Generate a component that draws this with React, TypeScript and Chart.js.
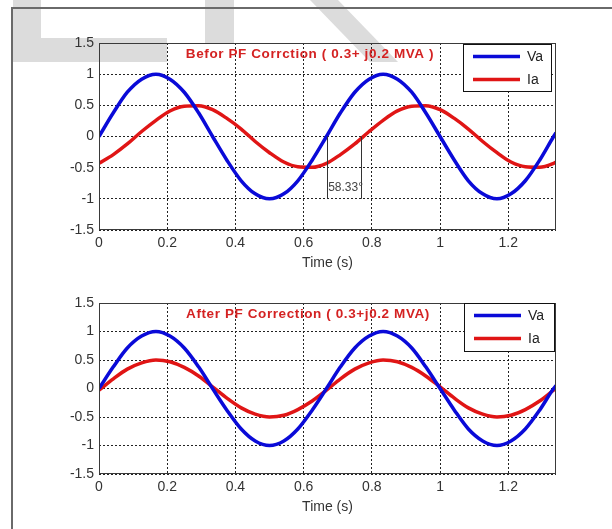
import React, { useEffect, useRef } from 'react';
import { Chart, registerables } from 'chart.js';

Chart.register(...registerables);

// ---- data ----
const time = [0, 0.042, 0.083, 0.125, 0.167, 0.208, 0.25, 0.292, 0.333, 0.375, 0.417, 0.458, 0.5, 0.542, 0.583, 0.625, 0.667, 0.708, 0.75, 0.792, 0.833, 0.875, 0.917, 0.958, 1.0, 1.042, 1.083, 1.125, 1.167, 1.208, 1.25, 1.292, 1.333, 1.34];
const vaBefore = [0, 0.38, 0.71, 0.92, 1, 0.92, 0.71, 0.38, 0, -0.38, -0.71, -0.92, -1, -0.92, -0.71, -0.38, 0, 0.38, 0.71, 0.92, 1, 0.92, 0.71, 0.38, 0, -0.38, -0.71, -0.92, -1, -0.92, -0.71, -0.38, 0, 0.06];
const iaBefore = [-0.43, -0.29, -0.12, 0.08, 0.26, 0.41, 0.486, 0.494, 0.43, 0.29, 0.12, -0.08, -0.26, -0.41, -0.486, -0.494, -0.43, -0.29, -0.12, 0.08, 0.26, 0.41, 0.486, 0.494, 0.43, 0.29, 0.12, -0.08, -0.26, -0.41, -0.486, -0.494, -0.43, -0.41];
const vaAfter = [0, 0.38, 0.71, 0.92, 1, 0.92, 0.71, 0.38, 0, -0.38, -0.71, -0.92, -1, -0.92, -0.71, -0.38, 0, 0.38, 0.71, 0.92, 1, 0.92, 0.71, 0.38, 0, -0.38, -0.71, -0.92, -1, -0.92, -0.71, -0.38, 0, 0.05];
const iaAfter = [-0.03, 0.17, 0.34, 0.45, 0.5, 0.47, 0.37, 0.22, 0.03, -0.17, -0.34, -0.45, -0.5, -0.47, -0.37, -0.22, -0.03, 0.17, 0.34, 0.45, 0.5, 0.47, 0.37, 0.22, 0.03, -0.17, -0.34, -0.45, -0.5, -0.47, -0.37, -0.22, -0.03, 0.0];

const xTicks = [0, 0.2, 0.4, 0.6, 0.8, 1, 1.2];
const yTicks = [-1.5, -1, -0.5, 0, 0.5, 1, 1.5];
const xMin = 0;
const xMax = 1.34;
const yMin = -1.5;
const yMax = 1.5;
const seriesLabels = ['Va', 'Ia'];
const titleBefore = 'Befor PF Corrction ( 0.3+ j0.2 MVA )';
const titleAfter = 'After PF Correction ( 0.3+j0.2 MVA)';
const xTitle = 'Time (s)';
const phaseTimes = [0.669, 0.769];
const phaseLevels = [0, -1];
const phaseLabel = '58.33°';

const BLUE = '#0a0ad8';
const RED = '#e01515';
const FONT = '"Liberation Sans", Arial, sans-serif';

type Cfg = {
  title: string;
  titleDx: number;
  titleDy: number;
  legendW: number;
  legendH: number;
  legendInset: number;
  legendTop: number;
  phase?: boolean;
};

function overlayPlugin(cfg: Cfg) {
  return {
    id: 'overlay',
    afterDatasetsDraw(chart: any) {
      const { ctx, chartArea: a, scales } = chart;
      const xs = scales.x;
      const ys = scales.y;
      ctx.save();
      ctx.setLineDash([]);

      if (cfg.phase) {
        ctx.strokeStyle = '#333';
        ctx.lineWidth = 1;
        for (const t of phaseTimes) {
          const px = Math.round(xs.getPixelForValue(t)) + 0.5;
          ctx.beginPath();
          ctx.moveTo(px, ys.getPixelForValue(phaseLevels[0]));
          ctx.lineTo(px, ys.getPixelForValue(phaseLevels[1]));
          ctx.stroke();
        }
        ctx.fillStyle = '#444';
        ctx.font = '12px ' + FONT;
        ctx.textAlign = 'left';
        ctx.textBaseline = 'middle';
        ctx.fillText(phaseLabel, xs.getPixelForValue(phaseTimes[0]) + 1, ys.getPixelForValue(-0.82));
      }

      // plot box
      ctx.strokeStyle = '#3a3a3a';
      ctx.lineWidth = 1;
      ctx.strokeRect(a.left + 0.5, a.top + 0.5, a.right - a.left - 1, a.bottom - a.top - 1);

      // title inside axes
      ctx.fillStyle = '#d42222';
      ctx.font = 'bold 13.5px ' + FONT;
      (ctx as any).letterSpacing = '0.6px';
      ctx.textAlign = 'center';
      ctx.textBaseline = 'middle';
      ctx.fillText(cfg.title, a.left + cfg.titleDx, a.top + cfg.titleDy);
      (ctx as any).letterSpacing = '0px';

      // legend
      const lx = a.right - cfg.legendInset - cfg.legendW;
      const ly = a.top + cfg.legendTop;
      ctx.fillStyle = '#fff';
      ctx.fillRect(lx, ly, cfg.legendW, cfg.legendH);
      ctx.strokeStyle = '#111';
      ctx.lineWidth = 1;
      ctx.strokeRect(lx + 0.5, ly + 0.5, cfg.legendW - 1, cfg.legendH - 1);
      chart.data.datasets.forEach((ds: any, i: number) => {
        const yy = ly + 12.5 + i * 23;
        ctx.strokeStyle = ds.borderColor;
        ctx.lineWidth = 3.5;
        ctx.beginPath();
        ctx.moveTo(lx + 10, yy);
        ctx.lineTo(lx + 57, yy);
        ctx.stroke();
        ctx.fillStyle = '#222';
        ctx.font = '14px ' + FONT;
        ctx.textAlign = 'left';
        ctx.textBaseline = 'middle';
        ctx.fillText(ds.label, lx + 64, yy + 1);
      });
      ctx.restore();
    },
  };
}

function makeConfig(va: number[], ia: number[], cfg: Cfg, padTop: number, xAxisH: number, titlePadBottom: number) {
  const tickFont = { family: FONT, size: 14 };
  return {
    type: 'line' as const,
    data: {
      datasets: [
        { label: seriesLabels[0], data: time.map((t, i) => ({ x: t, y: va[i] })), borderColor: BLUE, borderWidth: 3.5, pointRadius: 0, cubicInterpolationMode: 'monotone' as const, fill: false },
        { label: seriesLabels[1], data: time.map((t, i) => ({ x: t, y: ia[i] })), borderColor: RED, borderWidth: 3.5, pointRadius: 0, cubicInterpolationMode: 'monotone' as const, fill: false },
      ],
    },
    options: {
      responsive: false,
      animation: false as const,
      layout: { padding: { left: 0, right: 56, top: padTop, bottom: 0 } },
      plugins: { legend: { display: false }, tooltip: { enabled: false }, title: { display: false } },
      scales: {
        x: {
          type: 'linear' as const,
          min: xMin,
          max: xMax,
          afterBuildTicks: (s: any) => { s.ticks = xTicks.map((v) => ({ value: v })); },
          afterFit: (s: any) => { s.height = xAxisH; },
          grid: { color: '#222', lineWidth: 1, drawTicks: false },
          border: { display: false, dash: [2, 2] },
          ticks: { font: tickFont, color: '#333', padding: 5, maxRotation: 0, autoSkip: false, callback: (v: any) => String(v) },
          title: { display: true, text: xTitle, font: tickFont, color: '#333', padding: { top: 0, bottom: titlePadBottom } },
        },
        y: {
          type: 'linear' as const,
          min: yMin,
          max: yMax,
          afterBuildTicks: (s: any) => { s.ticks = yTicks.map((v) => ({ value: v })); },
          afterFit: (s: any) => { s.width = 99; },
          grid: { color: '#222', lineWidth: 1, drawTicks: false },
          border: { display: false, dash: [2, 2] },
          ticks: { font: tickFont, color: '#333', padding: 5, callback: (v: any) => String(v) },
        },
      },
    },
    plugins: [overlayPlugin(cfg)],
  };
}

export default function App() {
  const topRef = useRef<HTMLCanvasElement>(null);
  const botRef = useRef<HTMLCanvasElement>(null);

  useEffect(() => {
    const c1 = new Chart(topRef.current as HTMLCanvasElement, makeConfig(vaBefore, iaBefore, {
      title: titleBefore, titleDx: 211, titleDy: 11, legendW: 89, legendH: 48, legendInset: 4, legendTop: 1, phase: true,
    }, 43, 50, 8) as any);
    const c2 = new Chart(botRef.current as HTMLCanvasElement, makeConfig(vaAfter, iaAfter, {
      title: titleAfter, titleDx: 209, titleDy: 11, legendW: 91, legendH: 49, legendInset: 1, legendTop: 0,
    }, 23, 55, 13) as any);
    return () => { c1.destroy(); c2.destroy(); };
  }, []);

  const grey = '#dcdcdc';
  return (
    <div style={{ position: 'absolute', left: 0, top: 0, width: 612, height: 529, background: '#fff', overflow: 'hidden' }}>
      {/* watermark */}
      <div style={{ position: 'absolute', left: 13, top: 0, width: 28, height: 62, background: grey }} />
      <div style={{ position: 'absolute', left: 13, top: 38, width: 154, height: 24, background: grey }} />
      <div style={{ position: 'absolute', left: 205, top: 0, width: 29, height: 44, background: grey }} />
      <div style={{ position: 'absolute', left: 300, top: 0, width: 110, height: 62, background: grey, clipPath: 'polygon(10px 0, 38px 0, 98px 62px, 70px 62px)' }} />
      {/* figure frame */}
      <div style={{ position: 'absolute', left: 11, top: 7, width: 640, height: 560, borderTop: '2px solid #6a6a6a', borderLeft: '2px solid #6a6a6a' }} />
      <canvas ref={topRef} width={612} height={280} style={{ position: 'absolute', left: 0, top: 0, display: 'block' }} />
      <canvas ref={botRef} width={612} height={249} style={{ position: 'absolute', left: 0, top: 280, display: 'block' }} />
    </div>
  );
}
